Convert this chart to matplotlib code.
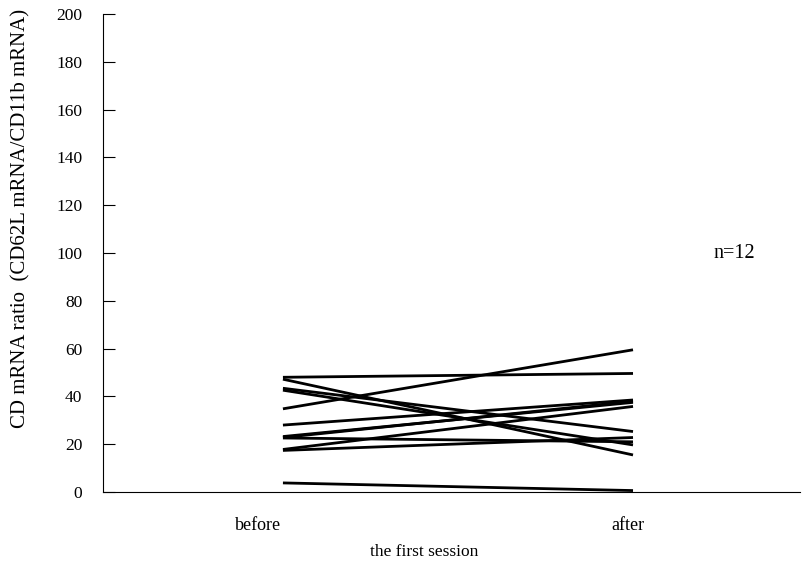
import matplotlib
matplotlib.use("Agg")
import matplotlib.pyplot as plt

plt.rcParams['font.family'] = ['Liberation Serif', 'DejaVu Serif']

# Paired measurements: each patient before and after the first session
categories = ["before", "after"]
before = [48.0, 34.8, 47.2, 43.4, 42.6, 28.0, 23.2, 22.8, 22.6, 17.8, 17.4, 3.8]
after = [49.6, 59.5, 15.5, 25.3, 19.7, 38.5, 37.5, 38.0, 21.0, 35.8, 22.8, 0.6]
y_ticks = [0, 20, 40, 60, 80, 100, 120, 140, 160, 180, 200]

fig = plt.figure(figsize=(8.02, 5.74), dpi=100)
ax = fig.add_axes([103 / 802, 1 - 492 / 574, (800 - 103) / 802, (492 - 14) / 574])

for b, a in zip(before, after):
    ax.plot([1, 2], [b, a], color="black", lw=2.0, solid_capstyle="butt")

ax.set_xlim(0.486, 2.477)
ax.set_ylim(0, 200)
ax.set_yticks(y_ticks)
ax.set_xticks([0.93, 1.985])
ax.set_xticklabels(categories)

ax.tick_params(axis="y", direction="in", length=8.6, width=0.8, pad=15, labelsize=12.5)
ax.tick_params(axis="x", length=0, pad=18, labelsize=13)

for side in ("top", "right"):
    ax.spines[side].set_visible(False)
for side in ("left", "bottom"):
    ax.spines[side].set_linewidth(0.8)

ax.text(2.29, 100, "n=12", fontsize=14.5, ha="center", va="center")

fig.text(21 / 802, 1 - 218 / 574, "CD mRNA ratio  (CD62L mRNA/CD11b mRNA)",
         rotation=90, ha="center", va="center", fontsize=15)
fig.text(424 / 802, 1 - 552 / 574, "the first session",
         ha="center", va="center", fontsize=12.5)

fig.savefig("out.png", dpi=100)
